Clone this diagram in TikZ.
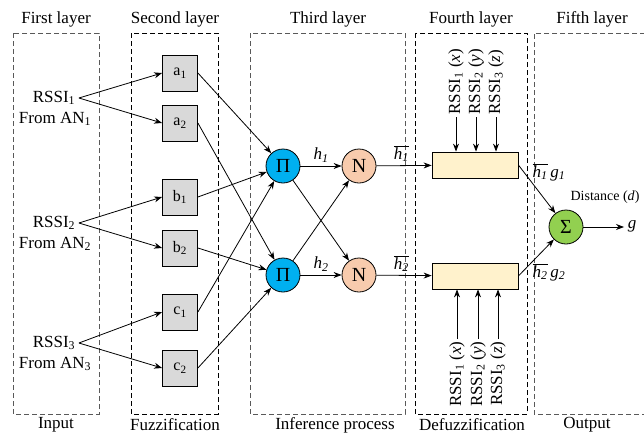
\documentclass[tikz,border=0pt]{standalone}
\usepackage{fontspec}
\setmainfont{Liberation Serif}
\usetikzlibrary{arrows.meta}
\definecolor{fuzzgray}{HTML}{D9D9D9}
\definecolor{picyan}{HTML}{00B0F0}
\definecolor{npeach}{HTML}{F8CBAD}
\definecolor{sumgreen}{HTML}{92D050}
\definecolor{defuzzyellow}{HTML}{FFF2CC}
\newcommand{\hlbar}[1]{$\overline{\mbox{\textit{h}\textsubscript{\textit{#1}}}}$}
\tikzset{node distance=2.5cm, auto,
  layer/.style={draw, dash pattern=on 5pt off 3pt, line width=0.9pt},
  fuzzbox/.style={draw, fill=fuzzgray, minimum width=35pt, minimum height=36pt, inner sep=0pt, font=\fontsize{16}{18}\selectfont},
  rulenode/.style={draw, circle, minimum size=34pt, inner sep=0pt, font=\fontsize{20}{22}\selectfont},
  defuzzbox/.style={draw, fill=defuzzyellow, minimum width=86pt, minimum height=26pt, inner sep=0pt},
  rssiup/.style={rotate=90, anchor=west, inner sep=2pt},
  rssidown/.style={rotate=90, anchor=east, inner sep=2pt}}

\begin{document}
\begin{tikzpicture}[x=1pt, y=-1pt, font=\fontsize{17}{19}\selectfont,
                    >={Stealth[length=8pt,width=6pt]}, line width=0.8pt]
                \useasboundingbox (0,0) rectangle (644,434);
                \draw[layer, black!65] (13,33) rectangle (99,414);
                \draw[layer] (131,33) rectangle (218,414);
                \draw[layer, black!65] (250,33) rectangle (405,414);
                \draw[layer] (415,33) rectangle (527,414);
                \draw[layer, black!65] (645,33) -| (534,414) -- (645,414);

                \node (t1) at (56,19)  {First layer};
                \node (t2) at (175,19) {Second layer};
                \node (t3) at (328,19) {Third layer};
                \node (t4) at (471,19) {Fourth layer};
                \node (t5) at (592,19) {Fifth layer};
                \node (b1) at (56,425)  {Input};
                \node (b2) at (175,425) {Fuzzification};
                \node (b3) at (335,425) {Inference process};
                \node (b4) at (472,425) {Defuzzification};
                \node (b5) at (587,425) {Output};

                \node (in1) at (54,98)  {RSSI\textsubscript{1}};
                \node (an1) at (55,119) {From AN\textsubscript{1}};
                \node (in2) at (54,223) {RSSI\textsubscript{2}};
                \node (an2) at (55,244) {From AN\textsubscript{2}};
                \node (in3) at (54,343) {RSSI\textsubscript{3}};
                \node (an3) at (55,364) {From AN\textsubscript{3}};

                \node (a1) [fuzzbox] at (180,73)  {a\textsubscript{1}};
                \node (a2) [fuzzbox] at (180,123) {a\textsubscript{2}};
                \node (f1) [fuzzbox] at (180,197) {b\textsubscript{1}};
                \node (f2) [fuzzbox] at (180,248) {b\textsubscript{2}};
                \node (c1) [fuzzbox] at (180,312) {c\textsubscript{1}};
                \node (c2) [fuzzbox] at (180,368) {c\textsubscript{2}};

                \node (p1) [rulenode, fill=picyan]  at (283,166) {Π};
                \node (p2) [rulenode, fill=picyan]  at (283,275) {Π};
                \node (n1) [rulenode, fill=npeach]  at (359,166) {N};
                \node (n2) [rulenode, fill=npeach]  at (359,275) {N};

                \node (d1) [defuzzbox] at (475,165) {};
                \node (d2) [defuzzbox] at (475,276) {};

                \node (s)  [rulenode, fill=sumgreen] at (566,227) {Σ};
                \node (g)  at (632,226) {\textit{g}};
                \node (dist) [font=\fontsize{14}{16}\selectfont] at (605,197) {Distance (\textit{d})};
                \node (l1) at (549,172) {\hlbar{1}\,\textit{g}\textsubscript{\textit{1}}};
                \node (l2) at (549,272) {\hlbar{2}\,\textit{g}\textsubscript{\textit{2}}};

                \node (x1) [rssiup] at (456,117) {RSSI\textsubscript{1} (\textit{x})};
                \node (y1) [rssiup] at (476,117) {RSSI\textsubscript{2} (\textit{y})};
                \node (z1) [rssiup] at (496,117) {RSSI\textsubscript{3} (\textit{z})};
                \node (x2) [rssidown] at (457,339) {RSSI\textsubscript{1} (\textit{x})};
                \node (y2) [rssidown] at (478,339) {RSSI\textsubscript{2} (\textit{y})};
                \node (z2) [rssidown] at (498,339) {RSSI\textsubscript{3} (\textit{z})};

                \draw[->] (in1.east) to (a1.west);
                \draw[->] (in1.east) to (a2.west);
                \draw[->] (in2.east) to (f1.west);
                \draw[->] (in2.east) to (f2.west);
                \draw[->] (in3.east) to (c1.west);
                \draw[->] (in3.east) to (c2.west);

                \draw[->] (a1.east) to (p1);
                \draw[->] (f1.east) to (p1);
                \draw[->] (c1.east) to (p1);
                \draw[->] (a2.east) to (p2);
                \draw[->] (f2.east) to (p2);
                \draw[->] (c2.east) to (p2);

                \draw[->] (p1) to node[above] {\textit{h}\textsubscript{\textit{1}}} (n1);
                \draw[->] (p2) to node[above] {\textit{h}\textsubscript{\textit{2}}} (n2);
                \draw[->] (p1) to (n2);
                \draw[->] (p2) to (n1);
                \draw[->] (n1) to node[above, pos=0.45] {\hlbar{1}} (d1);
                \draw[->] (n2) to node[above, pos=0.45] {\hlbar{2}} (d2);

                \draw[->] (x1.west) to (x1.west |- d1.north);
                \draw[->] (y1.west) to (y1.west |- d1.north);
                \draw[->] (z1.west) to (z1.west |- d1.north);
                \draw[->] (x2.east) to (x2.east |- d2.south);
                \draw[->] (y2.east) to (y2.east |- d2.south);
                \draw[->] (z2.east) to (z2.east |- d2.south);

                \draw[->] (d1.east) to (s);
                \draw[->] (d2.east) to (s);
                \draw[->] (s.east) to (s.east -| g.west);
              \end{tikzpicture}
\end{document}
